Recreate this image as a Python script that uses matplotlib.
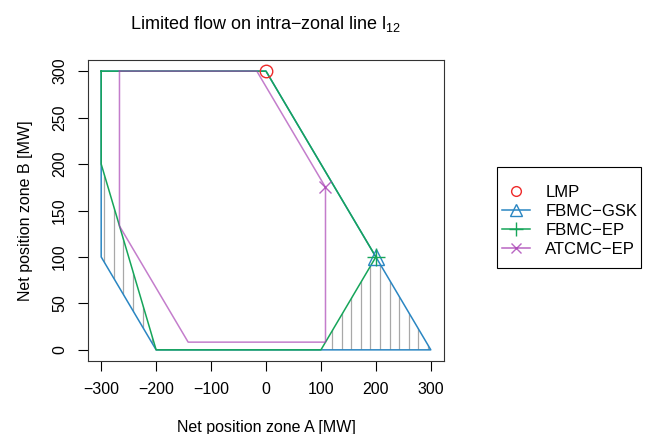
import matplotlib
matplotlib.use("Agg")
import matplotlib.pyplot as plt
import numpy as np
from matplotlib.patches import Polygon, Rectangle
from matplotlib.lines import Line2D

plt.rcParams['font.family'] = ['Liberation Sans', 'DejaVu Sans']
plt.rcParams['mathtext.fontset'] = 'custom'
plt.rcParams['mathtext.rm'] = 'Liberation Sans'
plt.rcParams['mathtext.default'] = 'regular'

# data
lmp_x, lmp_y = [0], [300]
gsk_x = [-300, 0, 200, 300, -200, -300, -300]
gsk_y = [300, 300, 100, 0, 0, 100, 300]
ep_x = [-300, 0, 200, 100, -200, -300, -300]
ep_y = [300, 300, 100, 0, 0, 200, 300]
atc_x = [-266.7, -16.7, 108.3, 108.3, -141.7, -266.7, -266.7]
atc_y = [300, 300, 175, 8.3, 8.3, 133.3, 300]
gsk_pt = (200, 100)
ep_pt = (200, 100)
atc_pt = (108.3, 175)
hatch_left = [(-300, 200), (-300, 100), (-200, 0)]
hatch_right = [(100, 0), (200, 100), (300, 0)]
xticks = [-300, -200, -100, 0, 100, 200, 300]
yticks = [0, 50, 100, 150, 200, 250, 300]
labels = ['LMP', 'FBMC\u2212GSK', 'FBMC\u2212EP', 'ATCMC\u2212EP']

c_red = '#ee2a2a'
c_blue = '#2a86c2'
c_green = '#16a55a'
c_purple = '#a840b4'
a_purple = 0.68

fig = plt.figure(figsize=(6.49, 4.34), dpi=100)
ax = fig.add_axes([88/649, 1-361/434, (444-88)/649, (361-60)/434])
ax.set_xlim(-324, 324)
ax.set_ylim(-12, 312)

# hatching
for poly, xs in [(hatch_left, np.arange(-294.5, -200, 17.5)),
                 (hatch_right, np.arange(121, 300, 17.3))]:
    p = Polygon(poly, closed=True, facecolor='none', edgecolor='none')
    ax.add_patch(p)
    lc = ax.vlines(xs, -5, 305, colors='#a8a8a8', lw=0.9)
    lc.set_clip_path(p)

lw = 1.1
ax.plot(gsk_x, gsk_y, color=c_blue, lw=lw)
ax.plot(ep_x, ep_y, color=c_green, lw=lw)
ax.plot(atc_x, atc_y, color=c_purple, lw=lw, alpha=a_purple)

ax.plot(lmp_x, lmp_y, 'o', mfc='none', mec=c_red, ms=9, mew=1.0, ls='none')
ax.plot([gsk_pt[0]], [gsk_pt[1]], '^', mfc='none', mec=c_blue, ms=11, mew=1.0)
ax.plot([ep_pt[0]], [ep_pt[1]], '+', color=c_green, ms=13, mew=1.0)
ax.plot([atc_pt[0]], [atc_pt[1]], 'x', color=c_purple, ms=9, mew=1.0, alpha=0.8)

ax.set_xticks(xticks)
ax.set_yticks(yticks)
ax.tick_params(direction='out', length=7, width=0.8, labelsize=11.5, pad=8)
for lab in ax.get_yticklabels():
    lab.set_rotation(90)
    lab.set_va('center')
for s in ax.spines.values():
    s.set_linewidth(0.8)
    s.set_color('#333333')

ax.set_xlabel('Net position zone A [MW]', fontsize=11.5, labelpad=17)
ax.set_ylabel('Net position zone B [MW]', fontsize=11.5, labelpad=14)
ax.set_title('Limited flow on intra\u2212zonal line l$_{12}$', fontsize=13, pad=22)

# legend box
fig.add_artist(Rectangle((497/649, 1-268/434), (641-497)/649, (268-167)/434,
                         transform=fig.transFigure, facecolor='white',
                         edgecolor='black', lw=0.8))
handles = [
    Line2D([], [], marker='o', mfc='none', mec=c_red, ls='none', ms=7),
    Line2D([], [], marker='^', mfc='none', mec=c_blue, color=c_blue, lw=lw, ms=9),
    Line2D([], [], marker='+', color=c_green, lw=lw, ms=10),
    Line2D([], [], marker='x', color=c_purple, lw=lw, ms=7, alpha=0.8),
]
leg = fig.legend(handles, labels, loc='center left',
                 bbox_to_anchor=(502/649, 1-221/434), fontsize=12,
                 frameon=False, handlelength=1.7, labelspacing=0.25,
                 borderpad=0, handletextpad=0.9, borderaxespad=0)

fig.savefig('out.png', dpi=100)
